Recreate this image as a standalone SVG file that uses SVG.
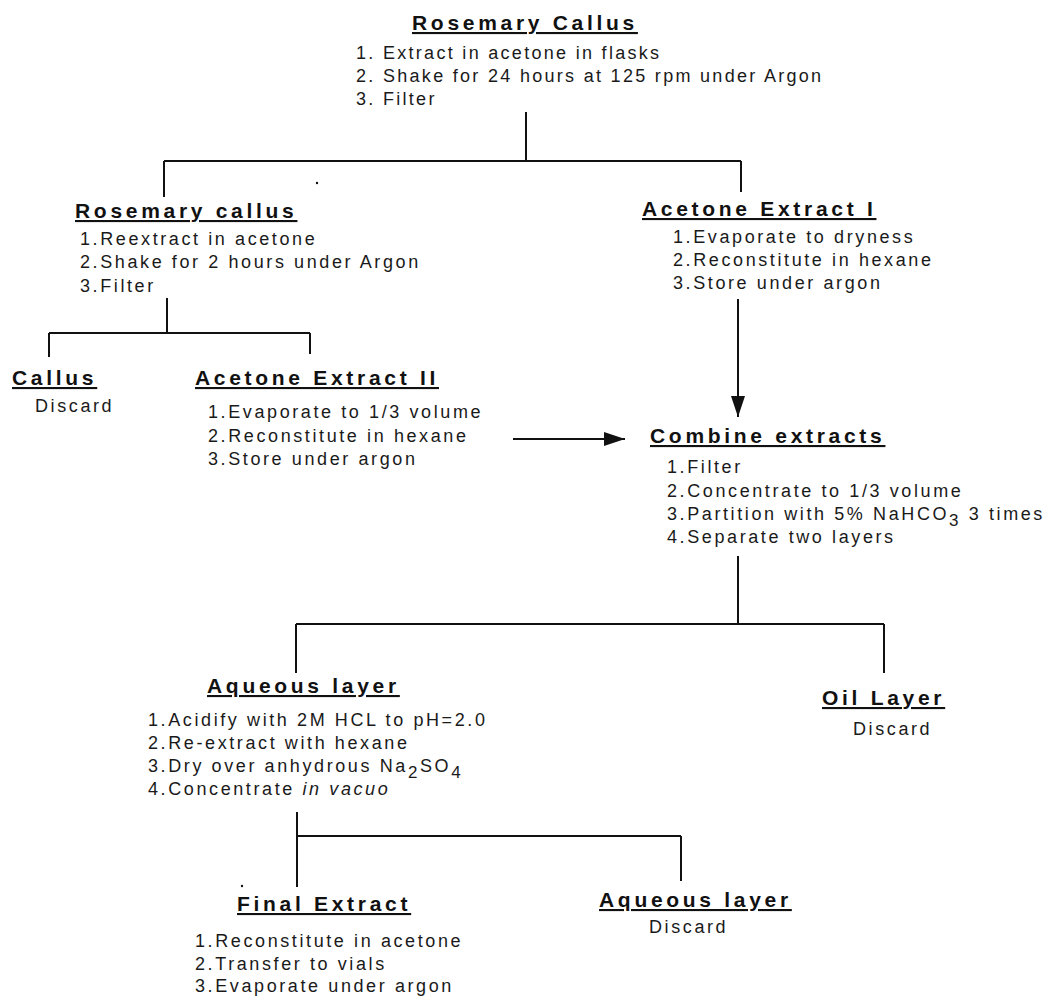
<svg xmlns="http://www.w3.org/2000/svg" width="1055" height="996" viewBox="0 0 1055 996">
<style>
.t{font-family:"Liberation Sans",Arial,sans-serif;font-weight:bold;font-size:21px;letter-spacing:3.7px;text-decoration:underline;fill:#111}
.b{font-family:"Liberation Sans",Arial,sans-serif;font-size:18px;letter-spacing:2.6px;fill:#1a1a1a}
.b2{letter-spacing:2.3px}
.sub{font-size:17px}
.ln{stroke:#111;stroke-width:2;fill:none}
</style>
<defs>
<marker id="arr" viewBox="0 0 21 14" refX="21" refY="7" markerWidth="21" markerHeight="14" markerUnits="userSpaceOnUse" orient="auto">
<path d="M0,0 L21,7 L0,14 z" fill="#111"/>
</marker>
</defs>
<rect width="1055" height="996" fill="#fff"/>
<g id="connectors">
<path class="ln" d="M526,112 V161 M164,161 H741 M164,161 V197 M741,161 V192"/>
<path class="ln" d="M167,298 V333 M49,333 H310 M49,333 V357 M310,333 V354"/>
<line class="ln" x1="513" y1="439" x2="625" y2="439" marker-end="url(#arr)"/>
<line class="ln" x1="738" y1="299" x2="738" y2="417" marker-end="url(#arr)"/>
<path class="ln" d="M738,556 V624 M296,624 H884 M296,624 V673 M884,624 V673"/>
<path class="ln" d="M297,812 V887 M297,836 H681 M681,836 V881"/>
<circle cx="317" cy="183" r="1.2" fill="#111"/>
<circle cx="242" cy="886" r="1.2" fill="#111"/>
</g>
<g id="rosemary-callus-top">
<text class="t" x="412" y="30">Rosemary Callus</text>
<text class="b b2" x="356" y="59">1. Extract in acetone in flasks</text>
<text class="b b2" x="356" y="82">2. Shake for 24 hours at 125 rpm under Argon</text>
<text class="b b2" x="356" y="105">3. Filter</text>
</g>
<g id="rosemary-callus-left">
<text class="t" x="75" y="218">Rosemary callus</text>
<text class="b" x="80" y="245">1.Reextract in acetone</text>
<text class="b" x="80" y="268">2.Shake for 2 hours under Argon</text>
<text class="b" x="80" y="292">3.Filter</text>
</g>
<g id="acetone-extract-1">
<text class="t" x="642" y="216">Acetone Extract I</text>
<text class="b" x="673" y="243">1.Evaporate to dryness</text>
<text class="b" x="673" y="266">2.Reconstitute in hexane</text>
<text class="b" x="673" y="289">3.Store under argon</text>
</g>
<g id="callus">
<text class="t" x="12" y="385">Callus</text>
<text class="b" x="35" y="412">Discard</text>
</g>
<g id="acetone-extract-2">
<text class="t" x="195" y="385">Acetone Extract II</text>
<text class="b" x="208" y="418">1.Evaporate to 1/3 volume</text>
<text class="b" x="208" y="442">2.Reconstitute in hexane</text>
<text class="b" x="208" y="465">3.Store under argon</text>
</g>
<g id="combine-extracts">
<text class="t" x="650" y="443">Combine extracts</text>
<text class="b" x="667" y="473">1.Filter</text>
<text class="b" x="667" y="497">2.Concentrate to 1/3 volume</text>
<text class="b" x="667" y="520">3.Partition with 5% NaHCO<tspan class="sub" dy="6">3</tspan><tspan dy="-6"> 3 times</tspan></text>
<text class="b" x="667" y="543">4.Separate two layers</text>
</g>
<g id="aqueous-layer-1">
<text class="t" x="207" y="693">Aqueous layer</text>
<text class="b" x="148" y="726">1.Acidify with 2M HCL to pH=2.0</text>
<text class="b" x="148" y="749">2.Re-extract with hexane</text>
<text class="b" x="148" y="772">3.Dry over anhydrous Na<tspan class="sub" dy="6">2</tspan><tspan dy="-6">SO</tspan><tspan class="sub" dy="6">4</tspan></text>
<text class="b" x="148" y="795">4.Concentrate <tspan font-style="italic">in vacuo</tspan></text>
</g>
<g id="oil-layer">
<text class="t" x="822" y="705">Oil Layer</text>
<text class="b" x="853" y="735">Discard</text>
</g>
<g id="final-extract">
<text class="t" x="237" y="911">Final Extract</text>
<text class="b" x="195" y="947">1.Reconstitute in acetone</text>
<text class="b" x="195" y="970">2.Transfer to vials</text>
<text class="b" x="195" y="992">3.Evaporate under argon</text>
</g>
<g id="aqueous-layer-2">
<text class="t" x="599" y="907">Aqueous layer</text>
<text class="b" x="649" y="933">Discard</text>
</g>
</svg>
